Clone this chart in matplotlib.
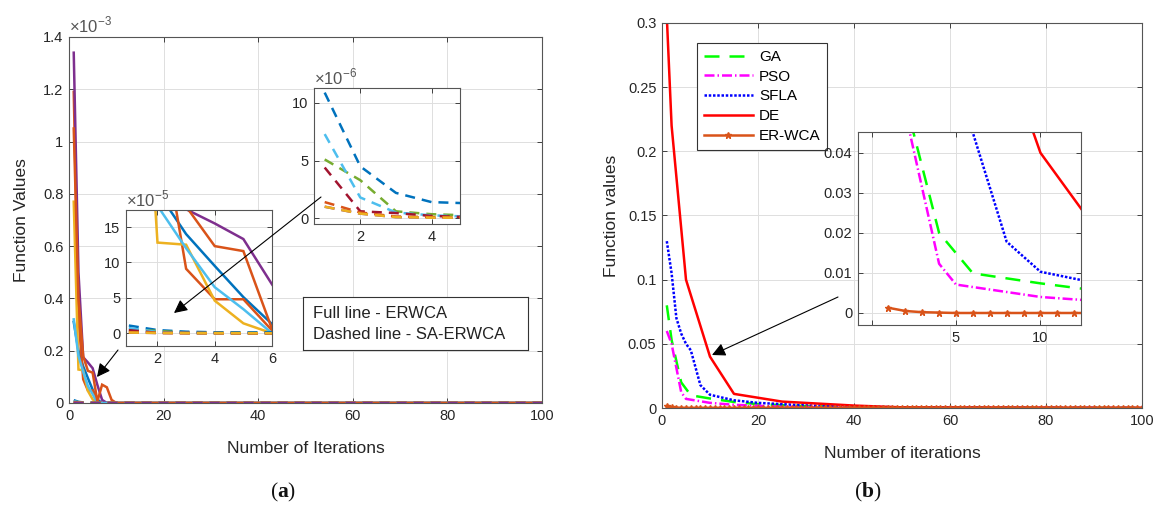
import numpy as np
import matplotlib
matplotlib.use("Agg")
import matplotlib.pyplot as plt

plt.rcParams['font.family'] = ['Liberation Sans', 'DejaVu Sans']
plt.rcParams['mathtext.fontset'] = 'custom'
plt.rcParams['mathtext.rm'] = 'Liberation Sans'
plt.rcParams['mathtext.bf'] = 'Liberation Serif:bold'

# MATLAB default colours
c_blue, c_orange, c_yellow, c_purple = '#0072BD', '#D95319', '#EDB120', '#7E2F8E'
c_green, c_lblue, c_dred = '#77AC30', '#4DBEEE', '#A2142F'

# ---- panel (a): ERWCA full lines (x 1e-3), first iterations, rest are zero
n_iter = 100
full_blue = [0.31, 0.20, 0.14, 0.095, 0.051, 0.013, 0.0]
full_orange = [1.19, 0.33, 0.091, 0.048, 0.048, 0.004, 0.0]
full_yellow = [0.77, 0.128, 0.125, 0.046, 0.014, 0.0]
full_purple = [1.34, 0.50, 0.175, 0.155, 0.133, 0.069, 0.012, 0.0]
full_lblue = [0.32, 0.18, 0.12, 0.065, 0.034, 0.0]
full_orange2 = [1.05, 0.40, 0.179, 0.123, 0.116, 0.006, 0.07, 0.06, 0.012, 0.0]

# SA-ERWCA dashed lines (x 1e-6)
dash_blue = [10.9, 4.5, 2.2, 1.4, 1.3, 1.25, 1.0, 0.5, 0.2, 0.1]
dash_orange = [1.4, 0.5, 0.15, 0.1, 0.05]
dash_yellow = [1.0, 0.4, 0.1, 0.05, 0.05]
dash_purple = [1.0, 0.4, 0.1, 0.05, 0.05]
dash_green = [5.1, 3.3, 0.6, 0.35, 0.25]
dash_lblue = [7.3, 1.8, 0.5, 0.25, 0.15]
dash_dred = [4.4, 0.6, 0.45, 0.2, 0.1]

# ---- panel (b)
ga_x = [1, 2, 4, 6, 10, 15, 20, 30, 50, 100]
ga_y = [0.08, 0.053, 0.02, 0.0099, 0.0074, 0.0047, 0.003, 0.0015, 0.0003, 0.0]
pso_x = [1, 2, 4, 5, 10, 15, 25, 40, 100]
pso_y = [0.06, 0.05, 0.0123, 0.0071, 0.004, 0.0025, 0.001, 0.0003, 0.0]
sfla_x = [1, 2, 3, 4, 5, 6, 8, 10, 15, 20, 30, 50, 100]
sfla_y = [0.13, 0.105, 0.07, 0.058, 0.05, 0.045, 0.0178, 0.0103, 0.006, 0.004, 0.002, 0.0005, 0.0]
de_x = [1, 2, 5, 10, 15, 25, 40, 50, 100]
de_y = [0.305, 0.22, 0.10, 0.04, 0.011, 0.005, 0.0019, 0.0005, 0.0]
erwca_y = [0.0013, 0.0005, 0.0002, 0.0001]


def pad(v):
    out = np.zeros(n_iter)
    out[:len(v)] = v
    return out


it = np.arange(1, n_iter + 1)
full_series = [(full_blue, c_blue), (full_orange, c_orange), (full_yellow, c_yellow),
               (full_purple, c_purple), (full_lblue, c_lblue), (full_orange2, c_orange)]
dash_series = [(dash_purple, c_purple), (dash_blue, c_blue), (dash_green, c_green),
               (dash_lblue, c_lblue), (dash_dred, c_dred), (dash_orange, c_orange),
               (dash_yellow, c_yellow)]

W, H = 1156, 509
fig = plt.figure(figsize=(W / 100, H / 100), dpi=100)


def box(l, t, r, b):
    return [l / W, 1 - b / H, (r - l) / W, (b - t) / H]


def fp(x, y):
    return (x / W, 1 - y / H)


TXT = '#262626'
LW = 1.8
DASH = (4, 2.8)


def style(ax, fs=10.5):
    ax.tick_params(direction='in', top=True, right=True, length=3.5, width=0.6,
                   labelsize=fs, colors=TXT, pad=4)
    for s in ax.spines.values():
        s.set_color('#555555')
        s.set_linewidth(0.8)
    ax.grid(True, color='#dedede', lw=0.7)
    ax.set_axisbelow(True)


def draw_a(ax, fscale, dscale, purple_top=False):
    for v, c in full_series:
        ax.plot(it, pad(v) * fscale, color=c, lw=LW, solid_joinstyle='miter')
    order = dash_series[1:] + dash_series[:1] if purple_top else dash_series
    for v, c in order:
        ax.plot(it, pad(v) * dscale, color=c, lw=LW, dashes=DASH)


# ---------------- panel (a)
ax1 = fig.add_axes(box(69, 37, 542, 403))
style(ax1)
draw_a(ax1, 1.0, 1e-3, purple_top=True)
ax1.set_xlim(0, 100)
ax1.set_ylim(0, 1.4)
ax1.set_xticks(np.arange(0, 101, 20))
ax1.set_yticks(np.arange(0, 1.41, 0.2))
ax1.set_yticklabels(['0', '0.2', '0.4', '0.6', '0.8', '1', '1.2', '1.4'])
ax1.set_xlabel('Number of Iterations', fontsize=12.5, color=TXT, labelpad=13)
ax1.set_ylabel('Function Values', fontsize=12.5, color=TXT, labelpad=10)
ax1.text(0, 1.005, r'$\times10^{-3}$', transform=ax1.transAxes, fontsize=12,
         color='#555555', ha='left', va='bottom')

ins1 = fig.add_axes(box(126, 210, 272, 346))
style(ins1)
draw_a(ins1, 100.0, 0.1)
ins1.set_xlim(0.9, 6)
ins1.set_ylim(-1.8, 17.4)
ins1.set_xticks([2, 4, 6])
ins1.set_yticks([0, 5, 10, 15])
ins1.text(0, 1.005, r'$\times10^{-5}$', transform=ins1.transAxes, fontsize=12,
          color='#555555', ha='left', va='bottom')

ins2 = fig.add_axes(box(314, 88, 460, 224))
style(ins2)
draw_a(ins2, 1000.0, 1.0)
ins2.set_xlim(0.7, 4.8)
ins2.set_ylim(-0.5, 11.3)
ins2.set_xticks([2, 4])
ins2.set_yticks([0, 5, 10])
ins2.text(0, 1.005, r'$\times10^{-6}$', transform=ins2.transAxes, fontsize=12,
          color='#555555', ha='left', va='bottom')

note = fig.add_axes(box(303, 297, 528, 350))
note.set_xticks([])
note.set_yticks([])
for s in note.spines.values():
    s.set_color('#333333')
    s.set_linewidth(0.8)
note.text(0.045, 0.68, 'Full line - ERWCA', fontsize=12, color='#222222',
          transform=note.transAxes, va='center')
note.text(0.045, 0.3, 'Dashed line - SA-ERWCA', fontsize=12, color='#222222',
          transform=note.transAxes, va='center')

arrow = dict(arrowstyle='-|>', color='black', lw=0.8, mutation_scale=20,
             shrinkA=0, shrinkB=0)
fig.add_artist(matplotlib.patches.FancyArrowPatch(fp(118, 350), fp(97, 377),
               transform=fig.transFigure, **arrow))
fig.add_artist(matplotlib.patches.FancyArrowPatch(fp(321, 197), fp(174, 313),
               transform=fig.transFigure, **arrow))

# ---------------- panel (b)
def draw_b(ax, ms):
    l1, = ax.plot(ga_x, ga_y, color='#00FF00', lw=LW, dashes=(6, 4), label='GA')
    l2, = ax.plot(pso_x, pso_y, color='#FF00FF', lw=LW, dashes=(4, 1.2, 0.6, 1.2), label='PSO')
    l3, = ax.plot(sfla_x, sfla_y, color='#0000FF', lw=LW, dashes=(1, 0.7), label='SFLA')
    l4, = ax.plot(de_x, de_y, color='#FF0000', lw=LW, label='DE')
    l5, = ax.plot(it, pad(erwca_y), color=c_orange, lw=LW, marker='*', ms=ms,
                  label='ER-WCA')
    return [l1, l2, l3, l4, l5]


ax2 = fig.add_axes(box(662, 23, 1142, 408))
style(ax2)
handles = draw_b(ax2, 4.5)
ax2.set_xlim(0, 100)
ax2.set_ylim(0, 0.3)
ax2.set_xticks(np.arange(0, 101, 20))
ax2.set_yticks(np.arange(0, 0.31, 0.05))
ax2.set_yticklabels(['0', '0.05', '0.1', '0.15', '0.2', '0.25', '0.3'])
ax2.set_xlabel('Number of iterations', fontsize=12.5, color=TXT, labelpad=13)
ax2.set_ylabel('Function values', fontsize=12.5, color=TXT, labelpad=6)
leg = ax2.legend(handles=handles, loc='upper left', bbox_to_anchor=fp(697, 43),
                 bbox_transform=fig.transFigure, fontsize=11, frameon=True,
                 fancybox=False, framealpha=1, edgecolor='#333333', borderaxespad=0,
                 borderpad=0.45, labelspacing=0.38, handlelength=3.2, handletextpad=0.4)
leg.get_frame().set_linewidth(0.8)

ins3 = fig.add_axes(box(858, 132, 1081, 325))
style(ins3)
draw_b(ins3, 4.5)
ins3.set_xlim(-0.8, 12.4)
ins3.set_ylim(-0.003, 0.0452)
ins3.set_xticks([0, 5, 10])
ins3.set_xticklabels(['', '5', '10'])
ins3.set_yticks([0, 0.01, 0.02, 0.03, 0.04])
ins3.set_yticklabels(['0', '0.01', '0.02', '0.03', '0.04'])

fig.add_artist(matplotlib.patches.FancyArrowPatch(fp(838, 297), fp(712, 355),
               transform=fig.transFigure, **arrow))

# captions
fig.text(283 / W, 1 - 492 / H, r'($\mathbf{a}$)', family='Liberation Serif',
         fontsize=15.5, ha='center', va='center', color='#111111')
fig.text(868 / W, 1 - 492 / H, r'($\mathbf{b}$)', family='Liberation Serif',
         fontsize=15.5, ha='center', va='center', color='#111111')

fig.savefig('out.png', dpi=100)
